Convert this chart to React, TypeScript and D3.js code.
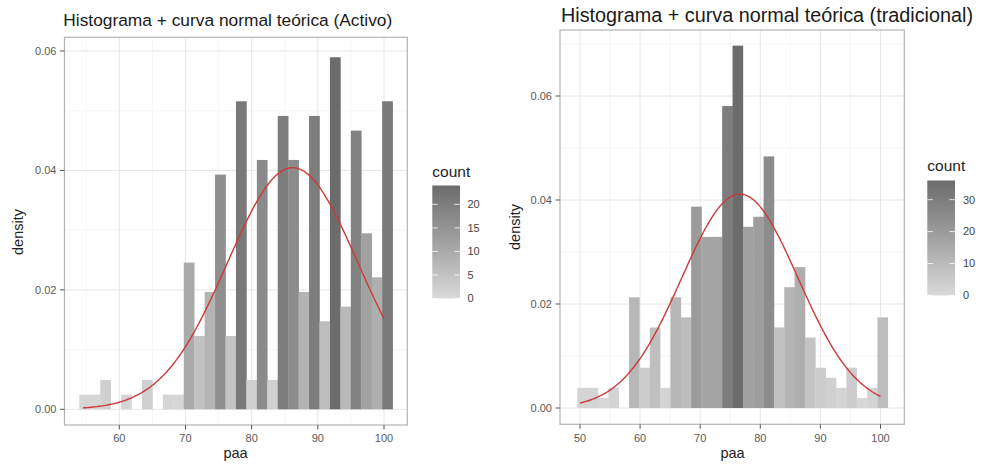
import React from "react";
import * as d3 from "d3";

// ---------- data ----------
const activoCounts = [1, 1, 2, 0, 1, 0, 2, 0, 1, 1, 10, 5, 8, 16, 5, 21, 2, 17, 2, 20, 17, 8, 20, 6, 24, 7, 19, 12, 9, 21];
const activoBinStart = 53.96;
const activoBinWidth = 1.578;
const activoMean = 86.2;
const activoSd = 9.86;
const activoCurveRange = [54.5, 100];

const tradCounts = [2, 2, 1, 2, 0, 11, 4, 8, 2, 11, 9, 20, 17, 17, 30, 36, 18, 19, 25, 8, 12, 14, 7, 4, 3, 2, 4, 1, 2, 9];
const tradBinStart = 49.55;
const tradBinWidth = 1.722;
const tradMean = 76.6;
const tradSd = 9.7;
const tradCurveRange = [50, 100];

const activoXTicks = [60, 70, 80, 90, 100];
const activoXMinor = [55, 65, 75, 85, 95];
const tradXTicks = [50, 60, 70, 80, 90, 100];
const tradXMinor = [55, 65, 75, 85, 95];
const yTicks = [0, 0.02, 0.04, 0.06];
const activoYMinor = [0.01, 0.03, 0.05];
const tradYMinor = [0.01, 0.03, 0.05, 0.07];
const activoLegendTicks = [0, 5, 10, 15, 20];
const tradLegendTicks = [0, 10, 20, 30];

const activoTitle = "Histograma + curva normal teórica (Activo)";
const tradTitle = "Histograma + curva normal teórica (tradicional)";

// ---------- styles ----------
const FONT = "Liberation Sans, Arial, Helvetica, sans-serif";
const LOW = "#dadada";
const HIGH = "#6c6c6c";
const CURVE = "#cc3a3a";

const panels = [
  {
    id: "activo",
    counts: activoCounts,
    binStart: activoBinStart,
    binWidth: activoBinWidth,
    mean: activoMean,
    sd: activoSd,
    curveRange: activoCurveRange,
    xTicks: activoXTicks,
    xMinor: activoXMinor,
    yMinor: activoYMinor,
    legendTicks: activoLegendTicks,
    title: activoTitle,
    layout: {
      left: 64.5, right: 407.3, top: 37.3, bottom: 425,
      xD: [60, 100], xR: [119.3, 384],
      yD: [0, 0.06], yR: [409.3, 51],
      titleX: 63.3, titleY: 26, titleSize: 17.2, titleLen: 329,
      yTitleX: 22.5, yTitleY: 232, xTitleX: 235.5, xTitleY: 458,
      legX: 432.3, legW: 27.7, legTop: 185.5, legBottom: 298.5,
      legTitleY: 176.5, legLabelX: 467.5,
      tickSize: 11, axisTitleSize: 14.5, legTitleSize: 15.5,
    },
  },
  {
    id: "trad",
    counts: tradCounts,
    binStart: tradBinStart,
    binWidth: tradBinWidth,
    mean: tradMean,
    sd: tradSd,
    curveRange: tradCurveRange,
    xTicks: tradXTicks,
    xMinor: tradXMinor,
    yMinor: tradYMinor,
    legendTicks: tradLegendTicks,
    title: tradTitle,
    layout: {
      left: 560, right: 904.3, top: 30, bottom: 424.3,
      xD: [50, 100], xR: [580, 880.5],
      yD: [0, 0.06], yR: [408, 96],
      titleX: 561, titleY: 21.5, titleSize: 19.5, titleLen: 412,
      yTitleX: 519.5, yTitleY: 227, xTitleX: 732.5, xTitleY: 458,
      legX: 927.3, legW: 27.7, legTop: 180.5, legBottom: 295.5,
      legTitleY: 170.5, legLabelX: 963,
      tickSize: 11, axisTitleSize: 14.5, legTitleSize: 15.5,
    },
  },
];

type PanelCfg = (typeof panels)[number];

function Panel({ cfg }: { cfg: PanelCfg }) {
  const L = cfg.layout;
  const x = d3.scaleLinear().domain(L.xD).range(L.xR);
  const y = d3.scaleLinear().domain(L.yD).range(L.yR);
  const n = d3.sum(cfg.counts);
  const maxCount = d3.max(cfg.counts) as number;
  const fill = d3
    .scaleLinear<string>()
    .domain([0, maxCount])
    .range([LOW, HIGH])
    .interpolate(d3.interpolateLab);

  const bins = cfg.counts.map((c, i) => ({
    x0: cfg.binStart + i * cfg.binWidth,
    x1: cfg.binStart + (i + 1) * cfg.binWidth,
    count: c,
    density: c / (n * cfg.binWidth),
  }));

  const curvePts = d3
    .range(0, 201)
    .map((k) => cfg.curveRange[0] + ((cfg.curveRange[1] - cfg.curveRange[0]) * k) / 200)
    .map((v) => [v, (1 / (cfg.sd * Math.sqrt(2 * Math.PI))) * Math.exp(-((v - cfg.mean) ** 2) / (2 * cfg.sd * cfg.sd))]);
  const line = d3
    .line<number[]>()
    .x((d) => x(d[0]))
    .y((d) => y(d[1]))
    .curve(d3.curveLinear);

  const leg = d3.scaleLinear().domain([0, maxCount]).range([L.legBottom, L.legTop]);
  const gradId = `grad-${cfg.id}`;
  const clipId = `clip-${cfg.id}`;
  const stops = d3.range(0, 11).map((k) => k / 10);
  const yFmt = d3.format(".2f");

  return (
    <g>
      <defs>
        <linearGradient id={gradId} x1="0" y1="1" x2="0" y2="0">
          {stops.map((s) => (
            <stop key={s} offset={s} stopColor={fill(s * maxCount)} />
          ))}
        </linearGradient>
        <clipPath id={clipId}>
          <rect x={L.left} y={L.top} width={L.right - L.left} height={L.bottom - L.top} />
        </clipPath>
      </defs>

      {/* title */}
      <text x={L.titleX} y={L.titleY} fontSize={L.titleSize} fill="#1a1a1a" fontFamily={FONT}
        textLength={L.titleLen} lengthAdjust="spacingAndGlyphs">
        {cfg.title}
      </text>

      {/* panel */}
      <rect x={L.left} y={L.top} width={L.right - L.left} height={L.bottom - L.top} fill="#fff" />
      <g clipPath={`url(#${clipId})`}>
        {cfg.xMinor.map((v) => (
          <line key={"xm" + v} x1={x(v)} x2={x(v)} y1={L.top} y2={L.bottom} stroke="#f2f2f2" strokeWidth={0.7} />
        ))}
        {cfg.yMinor.map((v) => (
          <line key={"ym" + v} x1={L.left} x2={L.right} y1={y(v)} y2={y(v)} stroke="#f2f2f2" strokeWidth={0.7} />
        ))}
        {cfg.xTicks.map((v) => (
          <line key={"xg" + v} x1={x(v)} x2={x(v)} y1={L.top} y2={L.bottom} stroke="#e6e6e6" strokeWidth={1} />
        ))}
        {yTicks.map((v) => (
          <line key={"yg" + v} x1={L.left} x2={L.right} y1={y(v)} y2={y(v)} stroke="#e6e6e6" strokeWidth={1} />
        ))}
        {bins
          .filter((b) => b.count > 0)
          .map((b, i) => (
            <rect
              key={"b" + i}
              x={x(b.x0)}
              width={x(b.x1) - x(b.x0) + 0.3}
              y={y(b.density)}
              height={y(0) - y(b.density)}
              fill={fill(b.count)}
            />
          ))}
        <path d={line(curvePts) as string} fill="none" stroke={CURVE} strokeWidth={1.4} />
      </g>
      <rect x={L.left} y={L.top} width={L.right - L.left} height={L.bottom - L.top} fill="none" stroke="#b3b3b3" strokeWidth={1.2} />

      {/* axes */}
      {yTicks.map((v) => (
        <g key={"yt" + v}>
          <line x1={L.left - 4.5} x2={L.left} y1={y(v)} y2={y(v)} stroke="#555" strokeWidth={1} />
          <text x={L.left - 8} y={y(v)} dy="0.35em" textAnchor="end" fontSize={L.tickSize} fill="#5a5a5a" fontFamily={FONT}>
            {yFmt(v)}
          </text>
        </g>
      ))}
      {cfg.xTicks.map((v) => (
        <g key={"xt" + v}>
          <line x1={x(v)} x2={x(v)} y1={L.bottom} y2={L.bottom + 4.5} stroke="#555" strokeWidth={1} />
          <text x={x(v)} y={441.5} textAnchor="middle" fontSize={L.tickSize} fill="#5a5a5a" fontFamily={FONT}>
            {v}
          </text>
        </g>
      ))}
      <text x={L.xTitleX} y={L.xTitleY} textAnchor="middle" fontSize={L.axisTitleSize} fill="#222" fontFamily={FONT}>
        paa
      </text>
      <text
        transform={`translate(${L.yTitleX},${L.yTitleY}) rotate(-90)`}
        textAnchor="middle"
        fontSize={L.axisTitleSize}
        fill="#222"
        fontFamily={FONT}
      >
        density
      </text>

      {/* legend */}
      <text x={L.legX} y={L.legTitleY} fontSize={L.legTitleSize} fill="#222" fontFamily={FONT}>
        count
      </text>
      <rect x={L.legX} y={L.legTop} width={L.legW} height={L.legBottom - L.legTop} fill={`url(#${gradId})`} />
      {cfg.legendTicks.map((v) => (
        <g key={"lt" + v}>
          <line x1={L.legX} x2={L.legX + L.legW / 5} y1={leg(v)} y2={leg(v)} stroke="#fff" strokeWidth={0.8} />
          <line x1={L.legX + L.legW - L.legW / 5} x2={L.legX + L.legW} y1={leg(v)} y2={leg(v)} stroke="#fff" strokeWidth={0.8} />
          <text x={L.legLabelX} y={leg(v)} dy="0.35em" fontSize={L.tickSize} fill="#444" fontFamily={FONT}>
            {v}
          </text>
        </g>
      ))}
    </g>
  );
}

export default function App() {
  return (
    <svg
      width={982}
      height={466}
      viewBox="0 0 982 466"
      style={{ position: "absolute", left: 0, top: 0, background: "#fff" }}
    >
      <rect x={0} y={0} width={982} height={466} fill="#fff" />
      {panels.map((p) => (
        <Panel key={p.id} cfg={p} />
      ))}
    </svg>
  );
}
